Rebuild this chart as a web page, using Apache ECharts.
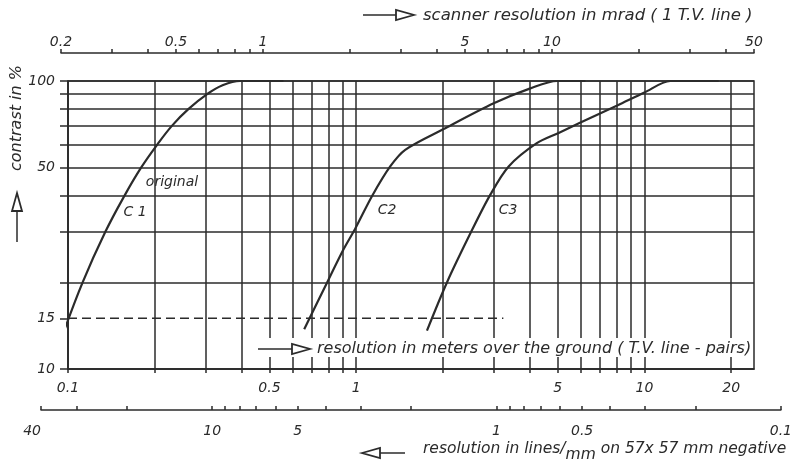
<!DOCTYPE html>
<html><head><meta charset="utf-8">
<script src="https://cdn.jsdelivr.net/npm/echarts@6/dist/echarts.min.js"></script>
<style>html,body{margin:0;padding:0;background:#fff}#c{width:795px;height:464px}</style>
</head><body><div id="c"></div>
<script>
// ---- tick / label values ----
const meterTicks = [0.1,0.2,0.3,0.4,0.5,0.6,0.7,0.8,0.9,1,2,3,4,5,6,7,8,9,10,20];
const meterLabels = [0.1,0.5,1,5,10,20];
const mradTicks = [0.2,0.3,0.4,0.5,0.6,0.7,0.8,0.9,1,2,3,4,5,6,7,8,9,10,20,30,40,50];
const mradLabels = [0.2,0.5,1,5,10,50];
const lpmTicks = [40,30,20,10,9,8,7,6,5,4,3,2,1,0.9,0.8,0.7,0.6,0.5,0.4,0.3,0.2,0.1];
const lpmLabels = [40,10,5,1,0.5,0.1];
const contrastTicks = [10,20,30,40,50,60,70,80,90,100];
const contrastLabels = [10,50,100];
const contrastRef = [15];

// ---- curves: resolution in meters (x) vs contrast % (y) ----
const c1Meters   = [0.096,0.1124,0.1349,0.1571,0.1793,0.2037,0.2297,0.2621,0.3039,0.3424,0.3957,0.559];
const c1Contrast = [13.2, 20.0, 30.0, 40.0, 50.0, 60.0, 70.0, 80.0, 90.0, 96.5, 100, 100];
const c2Meters   = [0.660,0.795,0.903,0.992,1.134,1.312,1.479,2.01,3.0,4.02,4.98,6.24];
const c2Contrast = [13.75,20.1,26.0,30.7,39.8,50.5,57.7,68.1,83.7,94.3,100,100];
const c3Meters   = [1.76,2.07,2.52,2.92,3.38,4.22,5.04,6.0,8.05,10.0,12.3,18.1];
const c3Contrast = [13.6,20.1,30.3,40.3,50.5,60.7,66.0,71.7,82.2,91.2,100,100];
const refMeters   = [0.1, 3.24];
const refContrast = [15, 15];

const FONT = 'DejaVu Sans';
const INK = '#2b2b2b';
const zip = (a, b) => a.map((v, i) => [v, b[i]]);
const fmt = v => String(+(+v).toPrecision(6));

const chart = echarts.init(document.getElementById('c'), null, {renderer: 'canvas'});

const labelStyle = {color: INK, fontFamily: FONT, fontStyle: 'italic', fontSize: 14, formatter: fmt};

const cv = document.createElement('canvas').getContext('2d');
function tw(t, size) { cv.font = 'italic ' + size + 'px "' + FONT + '"'; return cv.measureText(t).width; }

function txt(x, y, t, opt) {
  opt = opt || {};
  return {type: 'text', x: x, y: y, rotation: opt.rotation || 0, z: 20,
    style: {text: t, fill: INK, font: 'italic ' + (opt.size || 14) + 'px "' + FONT + '"',
      align: opt.align || 'left', verticalAlign: 'middle'}};
}
function arrow(x1, y1, x2, y2) {
  const dx = x2 - x1, dy = y2 - y1, L = Math.hypot(dx, dy), ux = dx / L, uy = dy / L;
  const hl = 18, hw = 5;
  const bx = x2 - ux * hl, by = y2 - uy * hl;
  return [
    {type: 'line', z: 20, shape: {x1: x1, y1: y1, x2: bx, y2: by}, style: {stroke: INK, lineWidth: 1.5}},
    {type: 'polygon', z: 20, shape: {points: [[x2, y2], [bx - uy * hw, by + ux * hw], [bx + uy * hw, by - ux * hw]]},
      style: {fill: '#fff', stroke: INK, lineWidth: 1.8}}
  ];
}

const gfx = [];
gfx.push({type: 'rect', z: 15, shape: {x: 250, y: 338, width: 501, height: 19}, style: {fill: '#fff'}});
gfx.push(...arrow(258, 349, 310, 349));
gfx.push(txt(317, 349, 'resolution in meters over the ground ( T.V. line - pairs)', {size: 16}));
gfx.push(...arrow(363, 15, 414, 15));
gfx.push(txt(423, 16, 'scanner resolution in mrad ( 1 T.V. line )', {size: 16.5}));
(function () {
  const S = 15.5;
  let x = 423; const y = 449;
  const p1 = 'resolution in lines/';
  gfx.push(txt(x, y, p1, {size: S})); x += tw(p1, S);
  gfx.push(txt(x, y + 6, 'mm', {size: S})); x += tw('mm', S);
  gfx.push(txt(x, y, ' on 57x 57 mm negative', {size: S}));
})();
gfx.push(...arrow(405, 453, 362, 453));
gfx.push(txt(17, 118, 'contrast in %', {rotation: Math.PI / 2, align: 'center', size: 16}));
gfx.push(...arrow(17, 242, 17, 193));
gfx.push(txt(172, 182, 'original', {align: 'center'}));
gfx.push(txt(135, 212, 'C 1', {align: 'center'}));
gfx.push(txt(387, 210, 'C2', {align: 'center'}));
gfx.push(txt(508, 210, 'C3', {align: 'center'}));

const axisLn = {show: true, onZero: false, lineStyle: {color: INK, width: 1.5}};
const curveStyle = {color: INK, width: 2.2};

const option = {
  backgroundColor: '#fff',
  animation: false,
  grid: [
    {left: 68, top: 81, width: 686, height: 288, show: true, borderColor: INK, borderWidth: 1.5, backgroundColor: 'transparent'},
    {left: 61, top: 53, width: 693, height: 1},
    {left: 41, top: 409, width: 749, height: 1}
  ],
  xAxis: [
    {type: 'log', gridIndex: 0, min: 0.1, max: 24, position: 'bottom',
      axisLine: axisLn,
      axisTick: {show: true, length: 4, customValues: meterTicks, lineStyle: {color: INK, width: 1.5}},
      axisLabel: Object.assign({}, labelStyle, {margin: 12, customValues: meterLabels}),
      splitLine: {show: true, lineStyle: {color: INK, width: 1.5}}, minorTick: {show: false}},
    {type: 'log', gridIndex: 1, min: 0.2, max: 50, position: 'top',
      axisLine: axisLn,
      axisTick: {show: true, length: 4, customValues: mradTicks, lineStyle: {color: INK, width: 1.5}},
      axisLabel: Object.assign({}, labelStyle, {margin: 4, customValues: mradLabels}),
      splitLine: {show: false}},
    {type: 'log', gridIndex: 2, min: 0.1, max: 40, inverse: true, position: 'bottom',
      axisLine: axisLn,
      axisTick: {show: true, inside: true, length: 4, customValues: lpmTicks, lineStyle: {color: INK, width: 1.5}},
      axisLabel: Object.assign({}, labelStyle, {margin: 14, customValues: lpmLabels, alignMinLabel: 'right'}),
      splitLine: {show: false}}
  ],
  yAxis: [
    {type: 'log', gridIndex: 0, min: 10, max: 100,
      axisLine: axisLn,
      axisTick: {show: true, length: 8, customValues: contrastTicks, lineStyle: {color: INK, width: 1.5}},
      axisLabel: Object.assign({}, labelStyle, {margin: 13, customValues: contrastLabels}),
      splitLine: {show: true, lineStyle: {color: INK, width: 1.5}}},
    {type: 'log', gridIndex: 0, min: 10, max: 100, position: 'left',
      axisLine: {show: false},
      axisTick: {show: true, length: 8, customValues: contrastRef, lineStyle: {color: INK, width: 1.5}},
      axisLabel: Object.assign({}, labelStyle, {margin: 13, customValues: contrastRef}),
      splitLine: {show: false}},
    {type: 'value', gridIndex: 1, show: false},
    {type: 'value', gridIndex: 2, show: false}
  ],
  series: [
    {name: 'C1', type: 'line', xAxisIndex: 0, yAxisIndex: 0, data: zip(c1Meters, c1Contrast), showSymbol: false, smooth: 0.4, clip: false, lineStyle: curveStyle, z: 5},
    {name: 'C2', type: 'line', xAxisIndex: 0, yAxisIndex: 0, data: zip(c2Meters, c2Contrast), showSymbol: false, smooth: 0.3, clip: false, lineStyle: curveStyle, z: 5},
    {name: 'C3', type: 'line', xAxisIndex: 0, yAxisIndex: 0, data: zip(c3Meters, c3Contrast), showSymbol: false, smooth: 0.3, clip: false, lineStyle: curveStyle, z: 5},
    {name: '15%', type: 'line', xAxisIndex: 0, yAxisIndex: 0, data: zip(refMeters, refContrast), showSymbol: false, lineStyle: {color: INK, width: 1.5, type: [9, 5]}, z: 5}
  ],
  graphic: gfx
};
chart.setOption(option);
</script></body></html>
